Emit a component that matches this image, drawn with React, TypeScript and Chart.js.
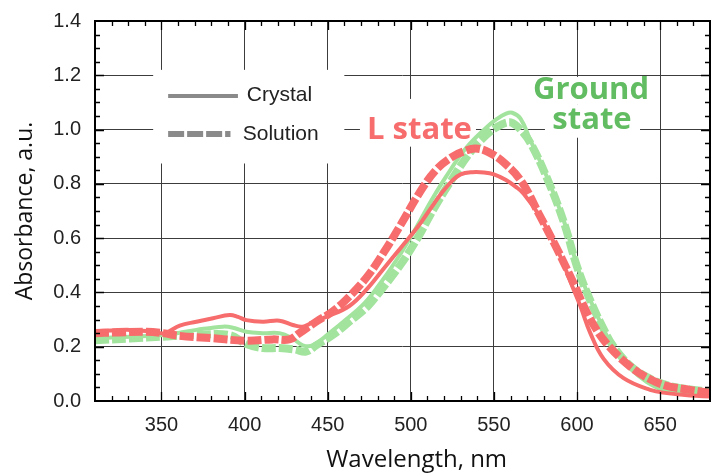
import React, { useEffect, useRef } from 'react';
import { Chart, registerables } from 'chart.js';

Chart.register(...registerables);

// ---------- data ----------
const lCrystalNm = [310, 320, 331, 345, 352, 361, 371, 381, 391, 396, 401, 411, 421, 429, 435, 441, 449, 463, 474, 484, 494, 504, 512, 519, 525, 530, 537, 544, 550, 557, 563, 568, 578, 588, 598, 602, 608, 616, 628, 644, 654, 668, 680];
const lCrystalAbs = [0.258, 0.26, 0.262, 0.255, 0.25, 0.278, 0.292, 0.305, 0.317, 0.31, 0.298, 0.292, 0.296, 0.28, 0.274, 0.29, 0.31, 0.35, 0.415, 0.49, 0.565, 0.64, 0.71, 0.77, 0.812, 0.835, 0.843, 0.842, 0.835, 0.815, 0.79, 0.763, 0.677, 0.56, 0.41, 0.35, 0.25, 0.155, 0.084, 0.041, 0.029, 0.02, 0.017];

const lSolutionNm = [310, 321, 341, 351, 361, 381, 401, 417, 427, 433, 443, 453, 463, 474, 484, 494, 505, 515, 525, 532, 539, 547, 557, 567, 577, 588, 598, 604, 610, 618, 632, 644, 654, 668, 680];
const lSolutionAbs = [0.25, 0.252, 0.255, 0.25, 0.24, 0.231, 0.222, 0.227, 0.227, 0.25, 0.292, 0.33, 0.385, 0.46, 0.55, 0.65, 0.765, 0.85, 0.9, 0.92, 0.93, 0.916, 0.873, 0.805, 0.69, 0.56, 0.433, 0.35, 0.28, 0.21, 0.127, 0.08, 0.056, 0.041, 0.03];

const groundCrystalNm = [310, 331, 351, 371, 387, 393, 401, 411, 421, 429, 435, 441, 451, 461, 472, 480, 492, 502, 512, 521, 533, 545, 552, 557, 561, 566, 572, 582, 592, 600, 608, 616, 622, 632, 642, 652, 665, 680];
const groundCrystalAbs = [0.231, 0.237, 0.243, 0.262, 0.274, 0.27, 0.255, 0.25, 0.25, 0.23, 0.205, 0.205, 0.25, 0.3, 0.36, 0.42, 0.525, 0.625, 0.735, 0.825, 0.93, 1.005, 1.04, 1.058, 1.062, 1.04, 0.96, 0.824, 0.665, 0.5, 0.372, 0.265, 0.195, 0.12, 0.07, 0.041, 0.03, 0.025];

const groundSolutionNm = [310, 331, 351, 371, 391, 401, 411, 421, 430, 437, 443, 453, 463, 474, 481, 494, 504, 514, 523, 535, 545, 552, 557, 561, 566, 572, 582, 592, 600, 608, 616, 622, 632, 642, 652, 665, 680];
const groundSolutionAbs = [0.224, 0.23, 0.237, 0.243, 0.243, 0.21, 0.195, 0.195, 0.19, 0.182, 0.205, 0.243, 0.292, 0.349, 0.4, 0.504, 0.6, 0.71, 0.8, 0.91, 0.978, 1.01, 1.025, 1.025, 1.0, 0.95, 0.82, 0.66, 0.495, 0.37, 0.265, 0.2, 0.13, 0.088, 0.062, 0.045, 0.035];

const xTickValues = [350, 400, 450, 500, 550, 600, 650];
const yTickValues = [0, 0.2, 0.4, 0.6, 0.8, 1.0, 1.2, 1.4];
const legendLabels = ['Crystal', 'Solution'];
const lStateLabel = 'L state';
const groundLabel = ['Ground', 'state'];
const xTitle = 'Wavelength, nm';
const yTitle = 'Absorbance, a.u.';

// ---------- styles ----------
const RED = 'rgb(247,108,108)';
const GREEN = 'rgb(162,227,158)';
const GREEN_TEXT = 'rgb(98,188,98)';
const GRAY = 'rgb(138,138,138)';
const DASH = [14, 3];

const toPts = (xs: number[], ys: number[]) => xs.map((x, i) => ({ x, y: ys[i] }));

const decorPlugin = {
  id: 'decor',
  beforeDatasetsDraw(chart: any) {
    const { ctx, scales } = chart;
    const X = (v: number) => scales.x.getPixelForValue(v);
    const Y = (v: number) => scales.y.getPixelForValue(v);
    const box = (x0: number, x1: number, y0: number, y1: number) => {
      ctx.fillRect(X(x0), Y(y1), X(x1) - X(x0), Y(y0) - Y(y1));
    };
    ctx.save();
    ctx.fillStyle = '#fff';
    box(345, 460, 0.875, 1.22); // legend
    box(469.4, 539.2, 0.937, 1.113); // L state
    box(569.3, 647.5, 1.091, 1.194); // Ground
    box(580.7, 637.9, 0.97, 1.091); // state
    ctx.restore();
  },
  afterDatasetsDraw(chart: any) {
    const { ctx, scales, chartArea: a } = chart;
    const X = (v: number) => scales.x.getPixelForValue(v);
    const Y = (v: number) => scales.y.getPixelForValue(v);
    ctx.save();
    // annotations
    ctx.textAlign = 'center';
    ctx.textBaseline = 'alphabetic';
    ctx.font = 'bold 31px "Open Sans"';
    ctx.fillStyle = RED;
    ctx.fillText(lStateLabel, X(505.2), Y(0.966));
    ctx.fillStyle = GREEN_TEXT;
    ctx.fillText(groundLabel[0], X(608.4), Y(1.113));
    ctx.fillText(groundLabel[1], X(609), Y(1.003));

    // legend
    ctx.strokeStyle = GRAY;
    ctx.lineCap = 'butt';
    ctx.lineWidth = 4;
    ctx.beginPath();
    ctx.moveTo(X(354), Y(1.124));
    ctx.lineTo(X(396), Y(1.124));
    ctx.stroke();
    ctx.lineWidth = 6;
    ctx.setLineDash([16, 3]);
    ctx.beginPath();
    ctx.moveTo(X(354), Y(0.984));
    ctx.lineTo(X(391.5), Y(0.984));
    ctx.stroke();
    ctx.setLineDash([]);
    ctx.fillStyle = '#222';
    ctx.font = '21px "Liberation Sans"';
    ctx.textAlign = 'left';
    ctx.fillText(legendLabels[0], X(401.3), Y(1.105));
    ctx.fillText(legendLabels[1], X(398.9), Y(0.962));

    // inward ticks
    ctx.strokeStyle = '#000';
    ctx.lineWidth = 1.3;
    ctx.beginPath();
    for (let v = 320; v <= 670; v += 10) {
      const px = Math.round(X(v)) + 0.5;
      const len = v % 50 === 0 ? 9 : 5;
      ctx.moveTo(px, a.bottom);
      ctx.lineTo(px, a.bottom - len);
      ctx.moveTo(px, a.top);
      ctx.lineTo(px, a.top + len);
    }
    for (let i = 1; i < 28; i++) {
      const v = i * 0.05;
      const py = Math.round(Y(v)) + 0.5;
      const len = i % 4 === 0 ? 9 : 5;
      ctx.moveTo(a.left, py);
      ctx.lineTo(a.left + len, py);
      ctx.moveTo(a.right, py);
      ctx.lineTo(a.right - len, py);
    }
    ctx.stroke();
    // frame
    ctx.lineWidth = 2;
    ctx.strokeRect(a.left, a.top, a.right - a.left, a.bottom - a.top);

    // x-axis title
    ctx.fillStyle = '#111';
    ctx.font = '24px "Open Sans"';
    ctx.textAlign = 'center';
    ctx.textBaseline = 'alphabetic';
    ctx.fillText(xTitle, X(503.5), 467);
    ctx.restore();
  },
};

const zeroPad = (s: any) => {
  s.paddingTop = 0;
  s.paddingBottom = 0;
  s.paddingLeft = 0;
  s.paddingRight = 0;
};

export default function App() {
  const ref = useRef<HTMLCanvasElement>(null);
  useEffect(() => {
    document.body.style.margin = '0';
    const canvas = ref.current!;
    const common = { pointRadius: 0, tension: 0.4, borderCapStyle: 'butt' as const };
    const chart = new Chart(canvas, {
      type: 'line',
      data: {
        datasets: [
          { label: 'L state, crystal', data: toPts(lCrystalNm, lCrystalAbs), borderColor: RED, borderWidth: 4, ...common },
          { label: 'L state, solution', data: toPts(lSolutionNm, lSolutionAbs), borderColor: RED, borderWidth: 8, borderDash: DASH, ...common },
          { label: 'Ground state, crystal', data: toPts(groundCrystalNm, groundCrystalAbs), borderColor: GREEN, borderWidth: 4, ...common },
          { label: 'Ground state, solution', data: toPts(groundSolutionNm, groundSolutionAbs), borderColor: GREEN, borderWidth: 8, borderDash: DASH, ...common },
        ],
      },
      options: {
        responsive: false,
        animation: false,
        events: [],
        layout: { padding: { top: 21, right: 1, left: 0, bottom: 0 } },
        plugins: { legend: { display: false }, tooltip: { enabled: false } },
        scales: {
          x: {
            type: 'linear',
            min: 310,
            max: 680,
            afterFit: (s: any) => { s.height = 72; zeroPad(s); },
            afterBuildTicks: (s: any) => { s.ticks = xTickValues.map((value) => ({ value })); },
            grid: { color: '#3c3c3c', lineWidth: 1, drawTicks: false },
            border: { display: false },
            ticks: { padding: 12, color: '#222', font: { family: '"Liberation Sans"', size: 20 }, maxRotation: 0, autoSkip: false },
            title: { display: false, text: xTitle },
          },
          y: {
            type: 'linear',
            min: 0,
            max: 1.4,
            afterFit: (s: any) => { s.width = 95; zeroPad(s); },
            afterBuildTicks: (s: any) => { s.ticks = yTickValues.map((value) => ({ value })); },
            grid: { color: '#3c3c3c', lineWidth: 1, drawTicks: false },
            border: { display: false },
            ticks: { padding: 14, color: '#222', font: { family: '"Liberation Sans"', size: 20 }, callback: (v: any) => Number(v).toFixed(1) },
            title: { display: true, text: yTitle, color: '#111', font: { family: '"Open Sans"', size: 23 }, padding: { top: 12, bottom: 0 } },
          },
        },
      },
      plugins: [decorPlugin],
    });
    return () => chart.destroy();
  }, []);
  return <canvas ref={ref} width={711} height={473} style={{ display: 'block' }} />;
}
